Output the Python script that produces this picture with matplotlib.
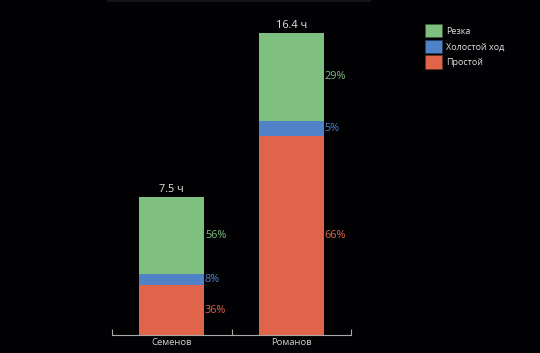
import numpy as np
import matplotlib
matplotlib.use("Agg")
import matplotlib.pyplot as plt
from matplotlib.patches import Patch

plt.rcParams['font.family'] = ['Open Sans', 'DejaVu Sans']

# data
names = ["Семенов", "Романов"]
totals = [7.5, 16.4]
total_labels = ["7.5 ч", "16.4 ч"]
cut_pct = [56, 29]
idle_pct = [8, 5]
down_pct = [36, 66]
cut_labels = ["56%", "29%"]
idle_labels = ["8%", "5%"]
down_labels = ["36%", "66%"]

green = "#7fbf7f"
blue = "#4f82c6"
red = "#df6449"
bg = "#020204"

fig = plt.figure(figsize=(5.4, 3.53), dpi=100, facecolor=bg)
ax = fig.add_axes([112 / 540, 1 - 335 / 353, 239 / 540, 315 / 353])
ax.set_facecolor(bg)

x = np.arange(len(names))
tot = np.array(totals)
down = tot * np.array(down_pct) / 100
idle = tot * np.array(idle_pct) / 100
cut = tot * np.array(cut_pct) / 100
w = 0.545

ax.bar(x, down, w, color=red, label="Простой")
ax.bar(x, idle, w, bottom=down, color=blue, label="Холостой ход")
ax.bar(x, cut, w, bottom=down + idle, color=green, label="Резка")

fs = 7.8
for i in range(len(names)):
    xr = x[i] + w / 2 + 0.005
    ax.text(xr, down[i] / 2, down_labels[i], color=red, fontsize=fs, va="center", ha="left")
    ax.text(xr, down[i] + idle[i] / 2, idle_labels[i], color=blue, fontsize=fs, va="center", ha="left")
    ax.text(xr, down[i] + idle[i] + cut[i] / 2, cut_labels[i], color=green, fontsize=fs, va="center", ha="left")
    ax.text(x[i], tot[i] + 0.12, total_labels[i], color="#e8e8e8", fontsize=fs, ha="center", va="bottom")

ax.set_xlim(-0.5, 1.5)
ax.set_ylim(0, 17.1)
ax.set_xticks([-0.5, 0.5, 1.5])
ax.set_xticklabels([])
ax.set_xticks(x, minor=True)
ax.set_xticklabels(names, minor=True, color="#d0d0d0", fontsize=6.8)
ax.tick_params(axis="x", which="major", direction="in", length=4, color="#aaaaaa", width=0.8)
ax.tick_params(axis="x", which="minor", length=0, pad=2)
ax.set_yticks([])
for s in ["left", "right", "top"]:
    ax.spines[s].set_visible(False)
ax.spines["bottom"].set_color("#aaaaaa")
ax.spines["bottom"].set_linewidth(0.8)

handles = [Patch(facecolor=green, edgecolor="#3a5a3a", linewidth=0.5, label="Резка"),
           Patch(facecolor=blue, edgecolor="#27406a", linewidth=0.5, label="Холостой ход"),
           Patch(facecolor=red, edgecolor="#6a3022", linewidth=0.5, label="Простой")]
leg = fig.legend(handles=handles, loc="upper left", bbox_to_anchor=(425 / 540, 1 - 24 / 353),
                 frameon=False, fontsize=6.5, handlelength=1.9, handleheight=1.9,
                 labelspacing=0.25, handletextpad=0.45, borderpad=0, borderaxespad=0)
for t in leg.get_texts():
    t.set_color("#e0e0e0")

# faint line at the very top
fig.add_artist(plt.Line2D([108 / 540, 370 / 540], [1 - 1 / 353, 1 - 1 / 353],
                          color="#14141a", linewidth=1.5, transform=fig.transFigure))

fig.savefig("out.png", dpi=100, facecolor=bg)
